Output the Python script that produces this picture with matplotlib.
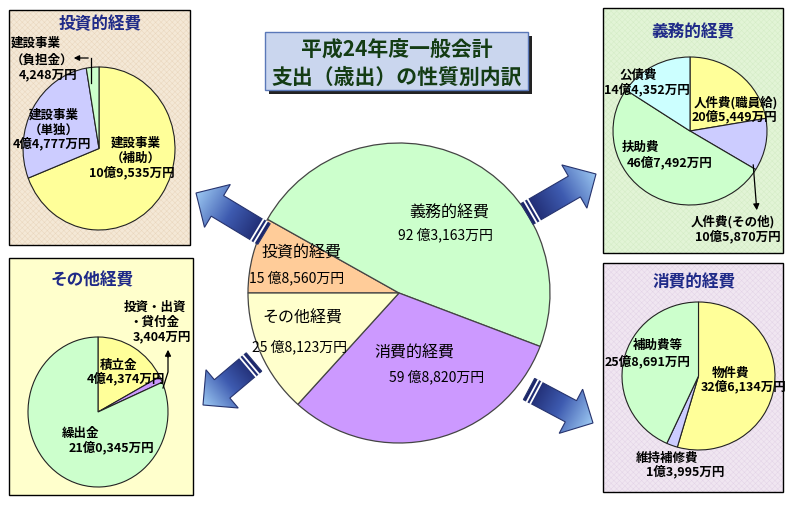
import numpy as np
import matplotlib
matplotlib.use('Agg')
import matplotlib.pyplot as plt
from matplotlib.patches import Rectangle, Polygon
from matplotlib.colors import LinearSegmentedColormap

plt.rcParams['font.family'] = ['Noto Sans CJK JP', 'DejaVu Sans']

# ---------------- data (万円) ----------------
title_lines = ['平成24年度一般会計', '支出（歳出）の性質別内訳']

main_names = ['投資的経費', '義務的経費', '消費的経費', 'その他経費']
main_values = [158560, 923163, 598820, 258123]

inv_title = '投資的経費'
inv_names = ['建設事業\n（補助）', '建設事業\n（単独）', '建設事業\n（負担金）']
inv_values = [109535, 44777, 4248]

duty_title = '義務的経費'
duty_names = ['人件費(職員給)', '人件費(その他)', '扶助費', '公債費']
duty_values = [205449, 105870, 467492, 144352]

oth_title = 'その他経費'
oth_names = ['積立金', '投資・出資\n・貸付金', '繰出金']
oth_values = [44374, 3404, 210345]

cons_title = '消費的経費'
cons_names = ['物件費', '維持補修費', '補助費等']
cons_values = [326134, 13995, 258691]


def fmt(v, space=False):
    oku, man = divmod(v, 10000)
    m = f"{man // 1000},{man % 1000:03d}" if man >= 1000 or oku else f"{man}"
    if oku:
        return f"{oku}{' ' if space else ''}億{m}万円"
    return f"{m}万円"


# ---------------- layout ----------------
W, H = 801, 507
fig = plt.figure(figsize=(W / 100, H / 100), dpi=100)
fig.patch.set_facecolor('white')


def px_axes(x0, y0, x1, y1, z):
    ax = fig.add_axes([x0 / W, 1 - y1 / H, (x1 - x0) / W, (y1 - y0) / H])
    ax.set_zorder(z)
    return ax


bg = fig.add_axes([0, 0, 1, 1])
bg.set_xlim(0, W); bg.set_ylim(H, 0); bg.axis('off'); bg.set_zorder(0)
top = fig.add_axes([0, 0, 1, 1])
top.set_xlim(0, W); top.set_ylim(H, 0); top.axis('off'); top.set_zorder(3)

NAVY = '#1F2A88'
YEL, LAV, GRN, CYN, PUR, ORG, LYEL = ('#FFFF99', '#CCCCFF', '#CCFFCC', '#CCFFFF',
                                      '#CC99FF', '#FFCC99', '#FFFFCC')

# panels
panels = [((9, 10, 190, 245), '#F4E8D6', '#E9D6BD'),
          ((603, 8, 783, 253), '#E2F4D6', '#D4ECC6'),
          ((9, 258, 193, 495), '#FFFFCC', None),
          ((603, 263, 783, 492), '#F0E6F1', '#E3D4E7')]
plt.rcParams['hatch.linewidth'] = 0.35
for (x0, y0, x1, y1), fc, hc in panels:
    bg.add_patch(Rectangle((x0, y0), x1 - x0, y1 - y0, facecolor=fc, edgecolor='none'))
    if hc:
        bg.add_patch(Rectangle((x0, y0), x1 - x0, y1 - y0, facecolor='none',
                               edgecolor=hc, hatch='xxxxxx', linewidth=0))
    bg.add_patch(Rectangle((x0, y0), x1 - x0, y1 - y0, facecolor='none',
                           edgecolor='black', linewidth=1.0))

# title box
bg.add_patch(Rectangle((269, 36), 263, 58, facecolor='#222222', edgecolor='none'))
bg.add_patch(Rectangle((265, 32), 263, 58, facecolor='#CAD6EE', edgecolor='#5A78B8',
                       linewidth=1.0))
for i, t in enumerate(title_lines):
    bg.text(397, 50 + i * 27, t, ha='center', va='center', fontsize=15,
            fontweight='bold', color='#143C14')


# pies
def draw_pie(box, values, colors, start, ec, lw):
    ax = px_axes(*box, z=1)
    wedges, _ = ax.pie(values, colors=colors, startangle=start, counterclock=False,
                       radius=1, wedgeprops=dict(edgecolor=ec, linewidth=lw))
    for w in wedges:
        w.set_clip_on(False)
    ax.set_aspect('auto'); ax.set_xlim(-1, 1); ax.set_ylim(-1, 1); ax.axis('off')
    return ax


draw_pie((248, 143, 550, 443), main_values, [ORG, GRN, PUR, LYEL], 180, '#444444', 0.9)
draw_pie((23, 67, 175, 230), inv_values, [YEL, LAV, GRN], 90, '#222222', 0.8)
draw_pie((613, 57, 767, 205), duty_values, [YEL, LAV, GRN, CYN], 90, '#222222', 0.8)
draw_pie((28, 337, 168, 487), oth_values, [YEL, PUR, GRN], 90, '#222222', 0.8)
draw_pie((622, 302, 775, 450), cons_values, [YEL, LAV, GRN], 90, '#222222', 0.8)

# block arrows with gradient
cmap = LinearSegmentedColormap.from_list('arr', ['#1B2468', '#3E5BB0', '#9CC8F2'])


def block_arrow(T, P, sw=24, hw=50, hl=25):
    T = np.array(T, float); P = np.array(P, float)
    L = np.linalg.norm(P - T); u = (P - T) / L; n = np.array([-u[1], u[0]])
    B = T + u * (L - hl)
    pts = [T + n * sw / 2, B + n * sw / 2, B + n * hw / 2, P, B - n * hw / 2,
           B - n * sw / 2, T - n * sw / 2]
    poly = Polygon(pts, closed=True, facecolor='none', edgecolor='#26336E',
                   linewidth=0.8, zorder=3)
    xs = [p[0] for p in pts]; ys = [p[1] for p in pts]
    xmin, xmax, ymin, ymax = min(xs), max(xs), min(ys), max(ys)
    gx, gy = np.meshgrid(np.linspace(xmin, xmax, 120), np.linspace(ymin, ymax, 120))
    t = ((gx - T[0]) * u[0] + (gy - T[1]) * u[1]) / L
    im = top.imshow(np.clip(t, 0, 1), extent=[xmin, xmax, ymax, ymin], origin='upper',
                    cmap=cmap, vmin=0, vmax=1, zorder=2, aspect='auto')
    top.add_patch(poly)
    im.set_clip_path(poly)
    for d in (4, 8):
        a = T + u * d + n * sw / 2; b = T + u * d - n * sw / 2
        top.plot([a[0], b[0]], [a[1], b[1]], color='white', lw=1.3, zorder=4)


block_arrow((264, 234), (196, 193))
block_arrow((527, 214), (596, 174))
block_arrow((254, 362), (203, 405))
block_arrow((529, 389), (593, 423))
top.set_xlim(0, W); top.set_ylim(H, 0)


def txt(x, y, s, size=9, ha='left', bold=True, color='black'):
    top.text(x, y, s, ha=ha, va='center', fontsize=size,
             fontweight='bold' if bold else 'normal', color=color, zorder=5)


# central labels
main_pos = [((301, 253), (297, 278)), ((449, 213), (445, 235)),
            ((414, 353), (437, 377)), ((302, 318), (299, 347))]
for name, v, (pn, pv) in zip(main_names, main_values, main_pos):
    txt(pn[0], pn[1], name, 11.5, 'center', False)
    txt(pv[0], pv[1], fmt(v, space=True), 10, 'center', False)

# panel titles
for (x, y), t in zip([(100, 24), (693, 32), (92, 280), (694, 282)],
                     [inv_title, duty_title, oth_title, cons_title]):
    txt(x, y, t, 12, 'center', True, NAVY)

SZ = 9
# 投資的経費 panel
for line, y in zip(inv_names[0].split('\n'), (143, 158)):
    txt(111, y, line, SZ)
txt(132, 173, fmt(inv_values[0]), SZ, 'center')
for line, y in zip(inv_names[1].split('\n'), (115, 130)):
    txt(54, y, line, SZ, 'center')
txt(52, 144, fmt(inv_values[1]), SZ, 'center')
for line, y in zip(inv_names[2].split('\n'), (43, 60)):
    txt(11, y, line, SZ)
txt(19, 75, fmt(inv_values[2]), SZ)
top.annotate('', xy=(71, 58), xytext=(91, 58),
             arrowprops=dict(arrowstyle='-|>', color='black', lw=0.9, mutation_scale=8))
top.plot([91, 91], [58, 83], color='black', lw=0.9)

# 義務的経費 panel
txt(736, 103, duty_names[0], SZ, 'center')
txt(734, 117, fmt(duty_values[0]), SZ, 'center')
txt(733, 222, duty_names[1], SZ, 'center')
txt(738, 237, fmt(duty_values[1]), SZ, 'center')
txt(622, 147, duty_names[2], SZ)
txt(627, 163, fmt(duty_values[2]), SZ)
txt(619, 75, duty_names[3], SZ)
txt(604, 90, fmt(duty_values[3]), SZ)
top.annotate('', xy=(757, 213), xytext=(753, 162),
             arrowprops=dict(arrowstyle='-|>', color='black', lw=0.9, mutation_scale=9))

# その他経費 panel
txt(100, 365, oth_names[0], SZ)
txt(87, 379, fmt(oth_values[0]), SZ)
l1, l2 = oth_names[1].split('\n')
txt(124, 307, l1, SZ)
txt(129, 322, l2, SZ)
txt(133, 337, fmt(oth_values[1]), SZ)
txt(62, 433, oth_names[2], SZ)
txt(69, 448, fmt(oth_values[2]), SZ)
top.plot([163, 168, 168], [388, 372, 356], color='black', lw=0.9)
top.annotate('', xy=(168, 347), xytext=(168, 360),
             arrowprops=dict(arrowstyle='-|>', color='black', lw=0.9, mutation_scale=9))

# 消費的経費 panel
txt(712, 373, cons_names[0], SZ)
txt(701, 387, fmt(cons_values[0]), SZ)
txt(636, 458, cons_names[1], SZ)
txt(646, 472, fmt(cons_values[1]), SZ)
txt(633, 345, cons_names[2], SZ)
txt(605, 362, fmt(cons_values[2]), SZ)

fig.savefig('out.png', dpi=100)
